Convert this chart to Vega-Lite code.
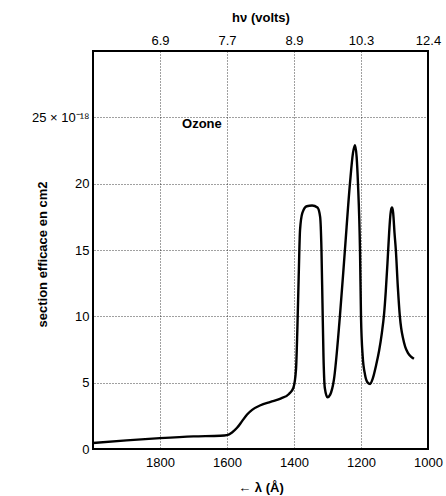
{
  "$schema": "https://vega.github.io/schema/vega-lite/v6.json",
  "width": 335,
  "height": 398,
  "autosize": {"type": "none"},
  "padding": {"left": 93, "top": 51, "right": 18, "bottom": 47},
  "background": "white",
  "config": {
    "view": {"stroke": "black", "strokeWidth": 2},
    "font": "Liberation Sans",
    "axis": {
      "domain": false,
      "ticks": false,
      "labelFont": "Liberation Sans",
      "labelFontSize": 13,
      "labelColor": "black",
      "titleFont": "Liberation Sans",
      "titleFontSize": 13,
      "titleFontWeight": "bold",
      "titleColor": "black",
      "gridColor": "black",
      "gridOpacity": 0.75,
      "gridDash": [1, 2],
      "gridWidth": 1,
      "labelFlush": false,
      "labelOverlap": false
    }
  },
  "datasets": {
    "ozone": [
      {"lambda": 2000, "sigma": 0.45},
      {"lambda": 1900, "sigma": 0.65},
      {"lambda": 1800, "sigma": 0.82},
      {"lambda": 1700, "sigma": 0.95},
      {"lambda": 1620, "sigma": 1.0},
      {"lambda": 1600, "sigma": 1.05},
      {"lambda": 1585, "sigma": 1.25},
      {"lambda": 1570, "sigma": 1.6},
      {"lambda": 1555, "sigma": 2.1},
      {"lambda": 1540, "sigma": 2.6},
      {"lambda": 1525, "sigma": 2.95},
      {"lambda": 1500, "sigma": 3.3},
      {"lambda": 1470, "sigma": 3.55},
      {"lambda": 1440, "sigma": 3.8},
      {"lambda": 1415, "sigma": 4.15},
      {"lambda": 1402, "sigma": 4.6},
      {"lambda": 1394, "sigma": 6},
      {"lambda": 1390, "sigma": 9},
      {"lambda": 1386, "sigma": 13},
      {"lambda": 1382, "sigma": 16.5},
      {"lambda": 1375, "sigma": 17.8},
      {"lambda": 1362, "sigma": 18.3},
      {"lambda": 1346, "sigma": 18.35},
      {"lambda": 1330, "sigma": 18.2},
      {"lambda": 1322, "sigma": 17.5},
      {"lambda": 1318, "sigma": 15},
      {"lambda": 1315, "sigma": 11},
      {"lambda": 1312, "sigma": 7},
      {"lambda": 1308, "sigma": 4.6},
      {"lambda": 1300, "sigma": 3.9},
      {"lambda": 1292, "sigma": 4.1},
      {"lambda": 1281, "sigma": 5.2},
      {"lambda": 1263, "sigma": 10},
      {"lambda": 1248, "sigma": 15},
      {"lambda": 1233, "sigma": 20},
      {"lambda": 1224, "sigma": 22.3},
      {"lambda": 1218, "sigma": 22.9},
      {"lambda": 1213, "sigma": 22},
      {"lambda": 1209, "sigma": 20},
      {"lambda": 1203, "sigma": 15},
      {"lambda": 1200, "sigma": 10},
      {"lambda": 1195, "sigma": 7},
      {"lambda": 1188, "sigma": 5.6},
      {"lambda": 1180, "sigma": 5.0},
      {"lambda": 1173, "sigma": 4.9},
      {"lambda": 1165, "sigma": 5.3},
      {"lambda": 1155, "sigma": 6.3},
      {"lambda": 1146, "sigma": 7.4},
      {"lambda": 1138, "sigma": 8.7},
      {"lambda": 1131, "sigma": 10.2},
      {"lambda": 1126, "sigma": 11.9},
      {"lambda": 1121, "sigma": 14.0},
      {"lambda": 1116, "sigma": 16.3},
      {"lambda": 1112, "sigma": 17.7},
      {"lambda": 1109, "sigma": 18.15},
      {"lambda": 1107, "sigma": 18.2},
      {"lambda": 1104, "sigma": 17.8},
      {"lambda": 1100, "sigma": 16.3},
      {"lambda": 1096, "sigma": 15},
      {"lambda": 1090, "sigma": 12.2},
      {"lambda": 1084, "sigma": 10},
      {"lambda": 1080, "sigma": 9.1},
      {"lambda": 1075, "sigma": 8.4},
      {"lambda": 1068, "sigma": 7.7},
      {"lambda": 1060, "sigma": 7.25},
      {"lambda": 1050, "sigma": 6.95},
      {"lambda": 1042, "sigma": 6.8}
    ],
    "label": [
      {"lambda": 1675, "sigma": 24.5, "text": "Ozone"}
    ]
  },
  "resolve": {"axis": {"x": "independent", "y": "independent"}},
  "layer": [
    {
      "data": {"name": "ozone"},
      "mark": {"type": "line", "color": "black", "strokeWidth": 2.4, "interpolate": "monotone"},
      "encoding": {
        "x": {
          "field": "lambda",
          "type": "quantitative",
          "scale": {"domain": [1000, 2000], "reverse": true, "nice": false, "zero": false},
          "axis": {
            "orient": "bottom",
            "values": [1000, 1200, 1400, 1600, 1800],
            "format": "d",
            "grid": true,
            "labelPadding": 7,
            "title": "← λ (Å)",
            "titleY": 38,
            "titleBaseline": "middle"
          }
        },
        "y": {
          "field": "sigma",
          "type": "quantitative",
          "scale": {"domain": [0, 30], "nice": false},
          "axis": {
            "orient": "left",
            "values": [0, 5, 10, 15, 20, 25],
            "grid": true,
            "labelPadding": 4,
            "labelExpr": "datum.value == 25 ? '25 × 10⁻¹⁸' : datum.label",
            "title": "section efficace en cm2",
            "titleX": -51,
            "titleY": 203,
            "titleBaseline": "middle"
          }
        }
      }
    },
    {
      "data": {"name": "label"},
      "mark": {"type": "text", "font": "Liberation Sans", "fontWeight": "bold", "fontSize": 13, "color": "black"},
      "encoding": {
        "x": {
          "field": "lambda",
          "type": "quantitative",
          "axis": {
            "orient": "top",
            "values": [1000, 1200, 1400, 1600, 1800],
            "grid": false,
            "labelPadding": 4,
            "labelExpr": "format(12398 / datum.value, '.1f')",
            "title": "hν (volts)",
            "titleY": -34,
            "titleBaseline": "middle"
          }
        },
        "y": {"field": "sigma", "type": "quantitative", "axis": null},
        "text": {"field": "text"}
      }
    }
  ]
}
